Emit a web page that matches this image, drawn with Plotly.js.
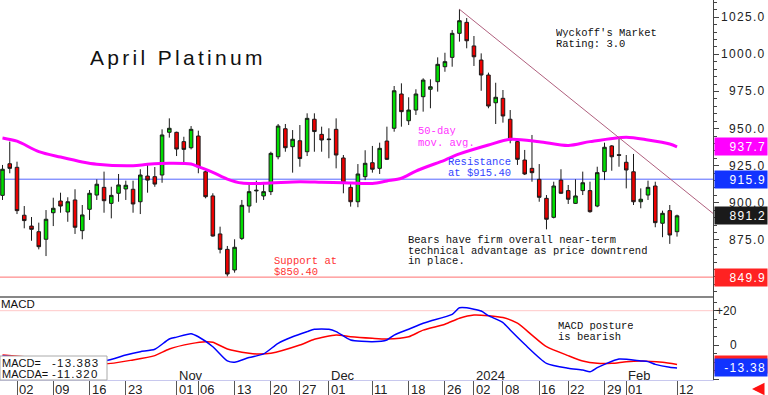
<!DOCTYPE html>
<html><head><meta charset="utf-8">
<script src="https://cdn.plot.ly/plotly-3.0.1.min.js"></script>
<style>html,body{margin:0;padding:0;background:#fff}#chart{width:768px;height:395px}</style>
</head><body><div id="chart"></div>
<script>
// ---- data ----
const openP  = [905.0,926.3,923.9,891.6,884.3,880.5,875.4,893.3,901.2,893.8,901.9,881.2,895.6,905.2,910.4,899.6,906.4,909.3,909.1,900.7,918.0,917.6,918.7,947.5,947.5,941.2,937.1,945.0,920.9,904.6,879.0,868.6,854.7,876.0,897.8,908.0,904.6,907.5,931.0,949.9,937.8,941.8,934.4,956.3,946.1,943.0,949.5,930.2,910.4,900.7,917.6,927.0,923.2,941.6,950.2,973.3,955.3,962.5,971.5,976.5,981.6,991.7,998.0,1014.2,1021.6,1005.7,996.2,986.1,967.4,970.4,956.3,941.2,928.8,923.2,915.8,903.0,890.2,915.3,908.2,899.6,908.2,908.2,897.8,921.0,938.3,932.4,927.3,920.9,900.7,905.2,911.3,886.2,894.7,880.5];
const highP  = [925.5,941.2,927.7,897.8,890.4,886.6,895.1,903.4,906.8,903.7,909.1,898.5,908.6,915.8,921.0,910.8,919.4,914.9,914.9,922.6,925.5,924.1,949.5,956.9,947.9,944.5,951.7,948.6,923.2,906.4,883.9,870.9,875.4,901.9,913.8,914.9,913.2,934.4,953.1,953.1,949.0,952.4,960.3,960.3,951.3,950.2,956.9,932.2,913.5,926.1,935.4,938.3,940.5,951.3,978.7,980.5,971.1,976.5,983.9,983.2,998.0,1001.1,1016.4,1030.4,1024.5,1012.4,1000.7,987.7,980.9,976.0,962.5,942.8,935.6,945.7,926.1,905.2,914.2,922.6,912.0,915.8,921.0,914.2,924.3,940.5,938.9,943.5,932.2,932.9,909.7,914.9,914.2,894.7,898.5,892.0];
const lowP   = [901.9,919.9,892.4,882.8,874.4,868.6,864.1,884.3,893.3,887.2,879.0,875.4,888.4,901.9,893.3,889.5,900.7,901.9,893.3,892.4,906.8,910.8,913.5,943.9,931.5,926.1,936.0,919.9,903.0,877.2,865.9,850.4,852.9,874.9,893.3,900.0,901.9,905.2,929.3,934.4,920.3,924.3,931.5,934.4,934.4,930.0,923.2,906.4,897.4,897.0,915.3,920.3,919.4,928.8,947.9,951.3,952.4,959.2,961.4,963.7,974.9,988.3,991.7,1008.6,1004.1,992.2,975.5,963.7,953.1,954.0,940.1,925.5,918.7,914.2,900.7,882.1,889.5,905.9,899.2,899.2,905.2,893.3,897.0,915.3,921.6,924.3,909.7,898.5,896.3,901.9,883.5,876.8,872.3,877.2];
const closeP = [922.6,923.2,894.7,888.0,882.1,870.4,888.9,896.3,897.8,900.7,883.5,891.8,906.4,912.5,901.4,905.0,912.0,911.8,899.2,918.7,915.3,912.6,945.7,950.2,936.2,936.0,949.5,924.3,904.1,877.6,868.6,852.0,870.0,898.3,907.5,908.4,907.5,933.3,951.7,937.1,942.8,929.8,956.9,948.0,942.3,942.6,932.2,913.5,900.7,919.4,926.6,922.6,936.7,929.3,975.5,961.4,962.5,973.3,982.7,978.2,993.3,995.1,1014.2,1022.7,1009.2,998.4,986.1,965.2,971.1,958.5,942.3,929.3,919.4,920.3,903.7,888.9,911.3,906.4,902.4,904.6,913.5,894.0,920.3,937.4,931.0,932.0,922.1,900.7,902.4,910.4,886.6,892.9,878.3,891.2];

const maIdx = [0,2,5,8,11,13,18,20,23,26,27,29,31,33,36,41,44,47,51,53,55,57,61,63,67,70,74,78,81,86,89,92,93];
const maVal = [943.7,941.5,934.5,930.8,927.5,926.0,925.0,925.9,926.6,926.1,924.3,920.5,916.0,913.3,913.1,914.2,913.8,913.5,913.0,914.7,916.5,921.4,928.8,932.9,938.9,942.8,941.2,938.6,941.2,944.2,942.3,939.6,937.7];

const macdIdx = [0,14,17,19,21,23,24,26,27,29,31,32,34,36,38,40,42,43,45,46,48,51,53,54,56,58,59,62,63,64,66,67,69,70,72,75,78,80,81,82,83,85,88,89,90,92,93];
const macdVal = [-6.4,-9.3,-5.8,-3.9,-2.5,3.5,4.6,6.6,4.8,-1.0,-9.3,-10.1,-7.3,-5.2,1.0,4.8,7.8,9.2,9.2,7.8,2.9,1.9,2.9,5.8,9.2,12.7,14.0,17.9,21.7,21.7,19.8,17.1,13.1,8.7,0.4,-10.7,-13.6,-14.6,-15.6,-13.2,-11.3,-8.2,-9.3,-9.7,-11.3,-13.0,-13.383];
const sigIdx = [0,3,14,18,21,23,26,28,29,31,34,35,37,41,43,46,48,51,53,56,58,61,63,65,67,69,71,73,75,78,80,82,84,86,88,91,93];
const sigVal = [-5.8,-6.8,-11.1,-8.7,-6.2,-2.3,0.8,1.9,1.6,-2.3,-4.8,-5.2,-4.8,0,3.3,5.8,4.8,3.9,3.5,4.8,8.7,12.1,15.6,17.5,17.1,16.0,12.7,5.8,-1.0,-6.2,-9.3,-10.7,-10.7,-9.7,-9.3,-10.1,-11.32];

const trendIdx = [63, 98];
const trendVal = [1030.4, 892.7];

const resistance = 915.9, support = 849.9, maLast = 937.7, lastClose = 891.2;
const macdLast = -13.383, macdaLast = -11.320;

const priceTicks = [875, 900, 925, 950, 975, 1000, 1025];
const macdTicks = [20, 0];
const macdTickText = ['+20', '0'];
const dayTickIdx  = [2,7,12,17,24,27,32,37,41,45,51,56,61,65,69,74,78,83,86,93];
const dayTickText = ['02','09','16','23','01','06','13','20','27','01','11','18','26','02','08','16','22','29','01','12'];
const monthIdx  = [24,45,65,86];
const monthText = ['Nov','Dec','2024','Feb'];

// ---- layout helpers (pixel -> paper) ----
const PW = 713, PH = 380;
const px = x => x / PW;
const py = y => 1 - y / PH;
const split = 297;

const idx = openP.map((_, i) => i);

const traces = [
  {type:'candlestick', x: idx, open: openP, high: highP, low: lowP, close: closeP,
   xaxis:'x', yaxis:'y', whiskerwidth: 0, hoverinfo:'skip', showlegend:false,
   increasing:{line:{color:'#1a1a1a', width:1}, fillcolor:'#00dd00'},
   decreasing:{line:{color:'#1a1a1a', width:1}, fillcolor:'#ee0000'}},
  {type:'scatter', mode:'lines', x: maIdx, y: maVal, xaxis:'x', yaxis:'y',
   line:{color:'#ff00ff', width:3, shape:'spline', smoothing:0.8}, hoverinfo:'skip', showlegend:false},
  {type:'scatter', mode:'lines', x: trendIdx, y: trendVal, xaxis:'x', yaxis:'y',
   line:{color:'#b0607e', width:1}, hoverinfo:'skip', showlegend:false},
  {type:'scatter', mode:'lines', x: sigIdx, y: sigVal, xaxis:'x', yaxis:'y2',
   line:{color:'#ff0000', width:1.5, shape:'spline', smoothing:0.6}, hoverinfo:'skip', showlegend:false},
  {type:'scatter', mode:'lines', x: macdIdx, y: macdVal, xaxis:'x', yaxis:'y2',
   line:{color:'#0000ff', width:1.5, shape:'spline', smoothing:0.6}, hoverinfo:'skip', showlegend:false}
];

const F = 'Liberation Sans, Arial, sans-serif';
const M = 'Liberation Mono, DejaVu Sans Mono, monospace';
const ann = [];
function txt(x, y, text, color, size, family, extra) {
  const s = size || 10.5;
  ann.push(Object.assign({xref:'paper', yref:'paper', x: px(x), y: py(y), xanchor:'left', yanchor:'middle',
    text: text, showarrow:false, borderpad:0, height: Math.floor(s) - 0.5,
    font:{family: family || M, size: s, color: color || '#111'}}, extra || {}));
}
const ls = (t, s) => '<span style="letter-spacing:' + s + 'px">' + t + '</span>';

// title
txt(89, 57, ls('April Platinum', 3.3), '#111', 21, F, {height: 24});
// notes
txt(555, 33, "Wyckoff's Market");
txt(555, 44, 'Rating: 3.0');
txt(417, 131, '50-day', '#ff33ff');
txt(417, 142.5, 'mov. avg.', '#ff33ff');
txt(447, 162, 'Resistance', '#3344ff');
txt(447, 172.5, 'at $915.40', '#3344ff');
txt(273, 261, 'Support at', '#ff3333');
txt(273, 271.5, '$850.40', '#ff3333');
txt(407, 240, 'Bears have firm overall near-term');
txt(407, 250.5, 'technical advantage as price downtrend');
txt(407, 261, 'in place.');
txt(557, 326, 'MACD posture');
txt(557, 336.5, 'is bearish');
txt(0, 304, 'MACD', '#111', 11.5, F);
// MACD legend box text
txt(1, 363, 'MACD=', '#111', 11, F);
txt(1, 374.5, 'MACDA=', '#111', 11, F);
txt(51, 363, ls(macdLast.toFixed(3), 1.2), '#111', 11.5, F);
txt(51, 374.5, ls(macdaLast.toFixed(3), 1.2), '#111', 11.5, F);

// right axis labels
priceTicks.forEach(v => ann.push({xref:'paper', yref:'y', x: px(767), y: v, xanchor:'right', yanchor:'middle',
  text: ls(v.toFixed(1), 1.3), showarrow:false, borderpad:0, height: 12, font:{family:F, size:12, color:'#222'}}));
macdTicks.forEach((v, k) => ann.push({xref:'paper', yref:'y2', x: px(738), y: v, xanchor:'right', yanchor:'middle',
  text: macdTickText[k], showarrow:false, borderpad:0, height: 12, font:{family:F, size:12, color:'#222'}}));

// value boxes
function box(yref, v, text, bg) {
  ann.push({xref:'paper', yref: yref, x: px(714), y: v, xanchor:'left', yanchor:'middle',
    text: ls(text, 1.3), showarrow:false, bgcolor: bg, width: 50, height: 15, align:'right', borderpad:1,
    font:{family:F, size:12, color:'#ffffff'}});
}
box('y', maLast, maLast.toFixed(1), '#ff00ff');
box('y', resistance, resistance.toFixed(1), '#1133ff');
box('y', lastClose, lastClose.toFixed(1), '#1a1a1a');
box('y', support, support.toFixed(1), '#ff2222');
box('y2', macdaLast, macdaLast.toFixed(2), '#ff2222');
box('y2', macdLast, macdLast.toFixed(2), '#1133ff');

// x labels
dayTickIdx.forEach((v, k) => ann.push({xref:'x', yref:'paper', x: v, y: py(388.5), xanchor:'left', yanchor:'middle', xshift: 1,
  text: dayTickText[k], showarrow:false, borderpad:0, height: 12, font:{family:F, size:13, color:'#222'}}));
monthIdx.forEach((v, k) => ann.push({xref:'x', yref:'paper', x: v, y: py(375), xanchor:'left', yanchor:'middle', xshift: 1,
  text: monthText[k], showarrow:false, borderpad:0, height: 12, font:{family:F, size:13, color:'#222'}}));
// red arrow bottom right
ann.push({xref:'paper', yref:'paper', x: px(752), y: py(389), ax: 12, ay: 0, text:'', showarrow:true,
  arrowhead:2, arrowsize:1, arrowwidth:2.5, arrowcolor:'#ff1111'});

const shapes = [
  {type:'line', xref:'paper', yref:'y', x0:0, x1:1, y0: resistance, y1: resistance, line:{color:'#5566ff', width:1}, layer:'below'},
  {type:'line', xref:'paper', yref:'y', x0:0, x1:1, y0: support, y1: support, line:{color:'#ff7070', width:1}, layer:'below'},
  {type:'line', xref:'paper', yref:'y2', x0:0, x1:1, y0: 20, y1: 20, line:{color:'#ffc8c8', width:1}, layer:'below'},
  {type:'line', xref:'paper', yref:'paper', x0:0, x1:1, y0: py(split), y1: py(split), line:{color:'#111', width:1.2}},
  {type:'rect', xref:'paper', yref:'paper', x0:0, x1: px(107), y0: py(380), y1: py(356), fillcolor:'#ffffff', line:{color:'#aaaaaa', width:1}, layer:'above'}
];

const layout = {
  width: 768, height: 395,
  margin: {l:0, r:55, t:0, b:15, pad:0},
  paper_bgcolor:'#ffffff', plot_bgcolor:'#ffffff',
  showlegend:false,
  xaxis: {range:[-0.345, 97.96], domain:[0,1], anchor:'y2', showline:true, linecolor:'#c8c8ee', linewidth:1,
    ticks:'outside', tickmode:'array', tickvals: dayTickIdx, ticklen:15, tickcolor:'#555', tickwidth:1,
    showticklabels:false, showgrid:false, zeroline:false, rangeslider:{visible:false}, fixedrange:true},
  yaxis: {domain:[py(split), 1], range:[836.5, 1036.66], side:'right', anchor:'x', showline:true, linecolor:'#444', linewidth:1,
    ticks:'outside', tickmode:'linear', tick0:0, dtick:25, ticklen:5, tickcolor:'#444', showticklabels:false,
    minor:{ticks:'outside', dtick:5, ticklen:3, tickcolor:'#444'},
    showgrid:false, zeroline:false, fixedrange:true},
  yaxis2: {domain:[0, py(split)], range:[-20.41, 27.99], side:'right', anchor:'x', showline:true, linecolor:'#444', linewidth:1,
    ticks:'outside', tickmode:'linear', tick0:0, dtick:20, ticklen:5, tickcolor:'#444', showticklabels:false,
    minor:{ticks:'outside', dtick:5, ticklen:3, tickcolor:'#444'},
    showgrid:false, zeroline:false, fixedrange:true},
  shapes: shapes,
  annotations: ann
};

Plotly.newPlot('chart', traces, layout, {staticPlot:true, displayModeBar:false});
</script>
</body></html>
